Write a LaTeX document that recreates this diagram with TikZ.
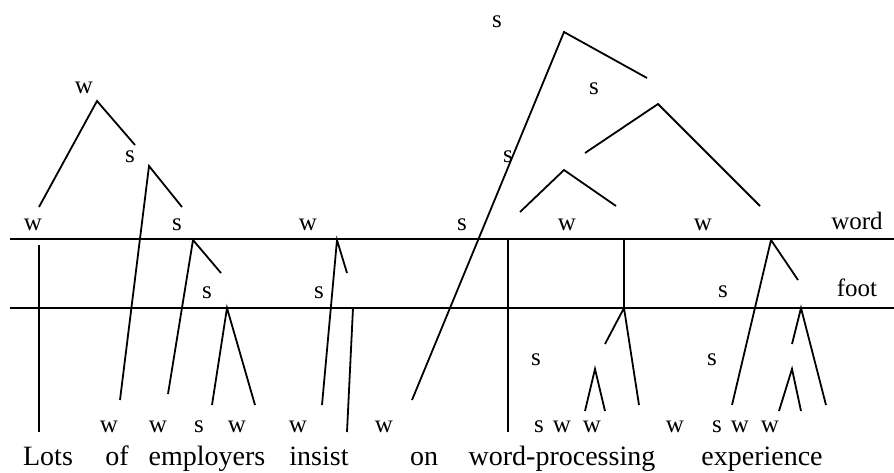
\documentclass[tikz,border=0pt]{standalone}
\usepackage{fontspec}
\setmainfont{Liberation Serif}
\begin{document}
\begin{tikzpicture}[x=1pt,y=-1pt,
  lab/.style={font=\fontsize{25}{25}\selectfont, anchor=base, inner sep=0pt},
  sent/.style={font=\fontsize{28}{28}\selectfont, anchor=base, inner sep=0pt},
  ln/.style={line width=1.8pt}]
\useasboundingbox (0,0) rectangle (894,472);
% tier lines
\coordinate (wl0) at (10,239); \coordinate (wl1) at (894,239);
\coordinate (fl0) at (10,308); \coordinate (fl1) at (894,308);
\draw[ln] (wl0) -- (wl1);
\draw[ln] (fl0) -- (fl1);
% left tree
\coordinate (a1) at (97,101); \coordinate (a1l) at (39,207); \coordinate (a1r) at (135,145);
\coordinate (a2) at (149,166); \coordinate (a2r) at (182,207); \coordinate (a2l) at (120,400);
\coordinate (a3) at (193,240); \coordinate (a3l) at (168,394); \coordinate (a3r) at (221,273);
\coordinate (a4) at (227,308); \coordinate (a4l) at (212,405); \coordinate (a4r) at (255,405);
\coordinate (lt0) at (39,245); \coordinate (lt1) at (39,432);
\draw[ln] (a1l) -- (a1) -- (a1r);
\draw[ln] (a2l) -- (a2) -- (a2r);
\draw[ln] (a3l) -- (a3) -- (a3r);
\draw[ln] (a4l) -- (a4) -- (a4r);
\draw[ln] (lt0) -- (lt1);
% insist
\coordinate (b1) at (337,240); \coordinate (b1l) at (322,405); \coordinate (b1r) at (347,273);
\coordinate (b2) at (353,308); \coordinate (b2l) at (347,432);
\draw[ln] (b1l) -- (b1) -- (b1r);
\draw[ln] (b2) -- (b2l);
% big tree
\coordinate (c1) at (564,32); \coordinate (c1l) at (412,400); \coordinate (c1r) at (647,78);
\coordinate (c2) at (658,104); \coordinate (c2l) at (585,153); \coordinate (c2r) at (760,206);
\coordinate (c3) at (564,170); \coordinate (c3l) at (520,212); \coordinate (c3r) at (616,206);
\draw[ln] (c1l) -- (c1) -- (c1r);
\draw[ln] (c2l) -- (c2) -- (c2r);
\draw[ln] (c3l) -- (c3) -- (c3r);
% word-processing
\coordinate (v0) at (508,240); \coordinate (v1) at (508,432);
\draw[ln] (v0) -- (v1);
\coordinate (d1) at (624,240); \coordinate (d2) at (624,308);
\coordinate (d2l) at (605,344); \coordinate (d2r) at (639,405);
\coordinate (d3) at (595,369); \coordinate (d3l) at (585,411); \coordinate (d3r) at (605,411);
\draw[ln] (d1) -- (d2);
\draw[ln] (d2l) -- (d2) -- (d2r);
\draw[ln] (d3l) -- (d3) -- (d3r);
% experience
\coordinate (e1) at (771,240); \coordinate (e1l) at (732,405); \coordinate (e1r) at (798,280);
\coordinate (e2) at (801,308); \coordinate (e2l) at (792,344); \coordinate (e2r) at (826,405);
\coordinate (e3) at (792,369); \coordinate (e3l) at (779,411); \coordinate (e3r) at (801,411);
\draw[ln] (e1l) -- (e1) -- (e1r);
\draw[ln] (e2l) -- (e2) -- (e2r);
\draw[ln] (e3l) -- (e3) -- (e3r);
% upper labels
\node[lab] (t1) at (84,93) {w};
\node[lab] (t2) at (130,162) {s};
\node[lab] (t3) at (497,27) {s};
\node[lab] (t4) at (594,94) {s};
\node[lab] (t5) at (508,162) {s};
% word tier
\node[lab] (w1) at (33,230) {w};
\node[lab] (w2) at (177,230) {s};
\node[lab] (w3) at (308,230) {w};
\node[lab] (w4) at (462,230) {s};
\node[lab] (w5) at (567,230) {w};
\node[lab] (w6) at (703,230) {w};
\node[lab] (w7) at (857,229) {word};
% foot tier
\node[lab] (f1) at (207,298) {s};
\node[lab] (f2) at (319,298) {s};
\node[lab] (f3) at (723,297) {s};
\node[lab] (f4) at (857,296) {foot};
% lower s
\node[lab] (g1) at (536,365) {s};
\node[lab] (g2) at (712,365) {s};
% syllable row
\node[lab] (s1) at (109,432) {w};
\node[lab] (s2) at (158,432) {w};
\node[lab] (s3) at (199,432) {s};
\node[lab] (s4) at (237,432) {w};
\node[lab] (s5) at (298,432) {w};
\node[lab] (s6) at (384,432) {w};
\node[lab] (s7) at (539,432) {s};
\node[lab] (s8) at (562,432) {w};
\node[lab] (s9) at (592,432) {w};
\node[lab] (s10) at (675,432) {w};
\node[lab] (s11) at (717,432) {s};
\node[lab] (s12) at (740,432) {w};
\node[lab] (s13) at (770,432) {w};
% sentence
\node[sent] (x1) at (48,465) {Lots};
\node[sent] (x2) at (117,465) {of};
\node[sent] (x3) at (207,465) {employers};
\node[sent] (x4) at (319,465) {insist};
\node[sent] (x5) at (424,465) {on};
\node[sent] (x6) at (562,465) {word-processing};
\node[sent] (x7) at (762,465) {experience};
\end{tikzpicture}
\end{document}
